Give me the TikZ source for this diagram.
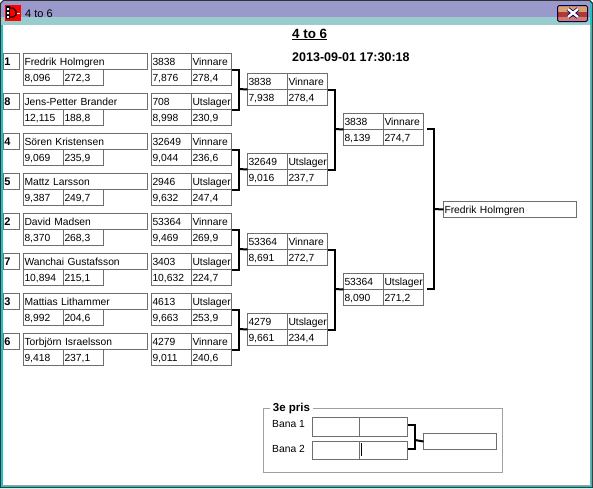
\documentclass[tikz,border=0pt]{standalone}
\usepackage{fontspec}
\setmainfont{Liberation Sans}
\usetikzlibrary{calc}
\hyphenpenalty=10000
\definecolor{barLilac}{HTML}{9999CC}
\definecolor{barTeal}{HTML}{99CCCC}
\definecolor{edgeCyan}{HTML}{19C4C4}
\definecolor{cellGray}{HTML}{6E6E6E}
\definecolor{frameGray}{HTML}{A0A0A0}
\definecolor{btnTan}{HTML}{D9A070}
\definecolor{btnRed}{HTML}{AE3A38}
\definecolor{btnPink}{HTML}{D27A72}

\begin{document}
\begin{tikzpicture}[
  x=1pt, y=-1pt,
  cell/.style={draw=cellGray, line width=1pt, anchor=north west, inner xsep=1pt, inner ysep=0pt,
    outer sep=0pt, xshift=.5pt, yshift=-.5pt,
    minimum height=16pt, text width=#1pt-2pt, text height=9pt, text depth=1pt, align=left,
    font=\fontsize{10.3}{12}\selectfont},
  seed/.style={cell=16, font=\fontsize{11}{12}\selectfont\bfseries},
  bracket/.style={line width=2pt, black, line cap=butt},
  caption/.style={inner sep=0pt, anchor=base west, font=\fontsize{10.3}{12}\selectfont}
]
  \useasboundingbox (0,0) rectangle (593,488);

  % window
  \fill[black!80] (0,488) -- (0,3) -- (3,0) -- (590,0) -- (593,3) -- (593,488) -- cycle;
  \fill[edgeCyan] (1,487) -- (1,4) -- (4,1) -- (589,1) -- (592,4) -- (592,487) -- cycle;
  \fill[barLilac] (1,17) -- (1,4) -- (4,1) -- (589,1) -- (590,4) -- (590,17) -- cycle;
  \fill[barTeal] (1,17) rectangle (590,25);
  \fill[frameGray] (3,25) rectangle (591,486);
  \fill[white] (3,25) rectangle (590,485);

  % title icon and close button
  \fill[red] (5,5) rectangle (21,21);
  \fill[black] (6,6) rectangle (10,19);
  \fill[white] (7,8) rectangle (9,10) (7,12) rectangle (9,14) (7,16) rectangle (9,18);
  \draw[black, line width=1.2pt] (10,8) -- (13,8) -- (16,11) -- (16,15) -- (13,17) -- (10,17);
  \draw[white, line width=1pt] (17,13) -- (20,13);
  \fill[btnTan] (557,5) rectangle (588,12);
  \fill[btnRed] (557,12) rectangle (588,17);
  \fill[btnPink] (557,17) rectangle (588,21);
  \draw[black!70!blue, line width=1pt, rounded corners=1.5pt] (557.5,5.5) rectangle (587.5,21.5);
  \draw[black!60!blue, line width=4pt] (568,9) -- (578,17) (578,9) -- (568,17);
  \draw[white, line width=2.4pt] (568,9) -- (578,17) (578,9) -- (568,17);
  \node[inner sep=0pt, anchor=base west, font=\fontsize{11}{12}\selectfont] (wintitle) at (25,17.5) {4 to 6};

  \node[inner sep=0pt, anchor=base west, font=\fontsize{13.4}{14}\selectfont\bfseries] (heading) at (292,38) {\underline{4 to 6}};
  \node[inner sep=0pt, anchor=base west, font=\fontsize{12.5}{14}\selectfont\bfseries] (stamp) at (292,61) {2013-09-01 17:30:18};

  % players
  \node[seed] (seed1) at (3,53) {1};
  \node[cell=124] (name1) at (23,53) {Fredrik Holmgren};
  \node[cell=40] (time1) at (23,69) {8,096};
  \node[cell=40] (pts1) at (63,69) {272,3};
  \node[cell=40] (id1) at (151,53) {3838};
  \node[cell=40] (res1) at (191,53) {Vinnare};
  \node[cell=40] (rt1) at (151,69) {7,876};
  \node[cell=40] (rp1) at (191,69) {278,4};

  \node[seed] (seed8) at (3,93) {8};
  \node[cell=124] (name8) at (23,93) {Jens-Petter Brander};
  \node[cell=40] (time8) at (23,109) {12,115};
  \node[cell=40] (pts8) at (63,109) {188,8};
  \node[cell=40] (id8) at (151,93) {708};
  \node[cell=40] (res8) at (191,93) {Utslager};
  \node[cell=40] (rt8) at (151,109) {8,998};
  \node[cell=40] (rp8) at (191,109) {230,9};

  \node[seed] (seed4) at (3,133) {4};
  \node[cell=124] (name4) at (23,133) {Sören Kristensen};
  \node[cell=40] (time4) at (23,149) {9,069};
  \node[cell=40] (pts4) at (63,149) {235,9};
  \node[cell=40] (id4) at (151,133) {32649};
  \node[cell=40] (res4) at (191,133) {Vinnare};
  \node[cell=40] (rt4) at (151,149) {9,044};
  \node[cell=40] (rp4) at (191,149) {236,6};

  \node[seed] (seed5) at (3,173) {5};
  \node[cell=124] (name5) at (23,173) {Mattz Larsson};
  \node[cell=40] (time5) at (23,189) {9,387};
  \node[cell=40] (pts5) at (63,189) {249,7};
  \node[cell=40] (id5) at (151,173) {2946};
  \node[cell=40] (res5) at (191,173) {Utslager};
  \node[cell=40] (rt5) at (151,189) {9,632};
  \node[cell=40] (rp5) at (191,189) {247,4};

  \node[seed] (seed2) at (3,213) {2};
  \node[cell=124] (name2) at (23,213) {David Madsen};
  \node[cell=40] (time2) at (23,229) {8,370};
  \node[cell=40] (pts2) at (63,229) {268,3};
  \node[cell=40] (id2) at (151,213) {53364};
  \node[cell=40] (res2) at (191,213) {Vinnare};
  \node[cell=40] (rt2) at (151,229) {9,469};
  \node[cell=40] (rp2) at (191,229) {269,9};

  \node[seed] (seed7) at (3,253) {7};
  \node[cell=124] (name7) at (23,253) {Wanchai Gustafsson};
  \node[cell=40] (time7) at (23,269) {10,894};
  \node[cell=40] (pts7) at (63,269) {215,1};
  \node[cell=40] (id7) at (151,253) {3403};
  \node[cell=40] (res7) at (191,253) {Utslager};
  \node[cell=40] (rt7) at (151,269) {10,632};
  \node[cell=40] (rp7) at (191,269) {224,7};

  \node[seed] (seed3) at (3,293) {3};
  \node[cell=124] (name3) at (23,293) {Mattias Lithammer};
  \node[cell=40] (time3) at (23,309) {8,992};
  \node[cell=40] (pts3) at (63,309) {204,6};
  \node[cell=40] (id3) at (151,293) {4613};
  \node[cell=40] (res3) at (191,293) {Utslager};
  \node[cell=40] (rt3) at (151,309) {9,663};
  \node[cell=40] (rp3) at (191,309) {253,9};

  \node[seed] (seed6) at (3,333) {6};
  \node[cell=124] (name6) at (23,333) {Torbjörn Israelsson};
  \node[cell=40] (time6) at (23,349) {9,418};
  \node[cell=40] (pts6) at (63,349) {237,1};
  \node[cell=40] (id6) at (151,333) {4279};
  \node[cell=40] (res6) at (191,333) {Vinnare};
  \node[cell=40] (rt6) at (151,349) {9,011};
  \node[cell=40] (rp6) at (191,349) {240,6};

  % semifinals
  \node[cell=40] (semiAid) at (247,73) {3838};
  \node[cell=40] (semiAres) at (287,73) {Vinnare};
  \node[cell=40] (semiAt) at (247,89) {7,938};
  \node[cell=40] (semiAp) at (287,89) {278,4};

  \node[cell=40] (semiBid) at (247,153) {32649};
  \node[cell=40] (semiBres) at (287,153) {Utslager};
  \node[cell=40] (semiBt) at (247,169) {9,016};
  \node[cell=40] (semiBp) at (287,169) {237,7};

  \node[cell=40] (semiCid) at (247,233) {53364};
  \node[cell=40] (semiCres) at (287,233) {Vinnare};
  \node[cell=40] (semiCt) at (247,249) {8,691};
  \node[cell=40] (semiCp) at (287,249) {272,7};

  \node[cell=40] (semiDid) at (247,313) {4279};
  \node[cell=40] (semiDres) at (287,313) {Utslager};
  \node[cell=40] (semiDt) at (247,329) {9,661};
  \node[cell=40] (semiDp) at (287,329) {234,4};

  % finals
  \node[cell=40] (finAid) at (343,113) {3838};
  \node[cell=40] (finAres) at (383,113) {Vinnare};
  \node[cell=40] (finAt) at (343,129) {8,139};
  \node[cell=40] (finAp) at (383,129) {274,7};

  \node[cell=40] (finBid) at (343,273) {53364};
  \node[cell=40] (finBres) at (383,273) {Utslager};
  \node[cell=40] (finBt) at (343,289) {8,090};
  \node[cell=40] (finBp) at (383,289) {271,2};

  \node[cell=133] (champ) at (443,201) {Fredrik Holmgren};

  % connectors
  \coordinate (joinA) at (238.5,89);
  \coordinate (joinB) at (238.5,169);
  \coordinate (joinC) at (238.5,249);
  \coordinate (joinD) at (238.5,329);
  \coordinate (joinE) at (334.5,129);
  \coordinate (joinF) at (334.5,289);
  \coordinate (joinG) at (434,209);
  \coordinate (stubA) at (427,129);
  \coordinate (stubB) at (427,289);

  \draw[bracket] (res1.south east) -| (joinA) |- (res8.south east);
  \draw[bracket] (joinA) -- (semiAid.south west);
  \draw[bracket] (res4.south east) -| (joinB) |- (res5.south east);
  \draw[bracket] (joinB) -- (semiBid.south west);
  \draw[bracket] (res2.south east) -| (joinC) |- (res7.south east);
  \draw[bracket] (joinC) -- (semiCid.south west);
  \draw[bracket] (res3.south east) -| (joinD) |- (res6.south east);
  \draw[bracket] (joinD) -- (semiDid.south west);
  \draw[bracket] (semiAres.south east) -| (joinE) |- (semiBres.south east);
  \draw[bracket] (joinE) -- (finAid.south west);
  \draw[bracket] (semiCres.south east) -| (joinF) |- (semiDres.south east);
  \draw[bracket] (joinF) -- (finBid.south west);
  \draw[bracket] (stubA) -| (joinG) |- (stubB);
  \draw[bracket] (joinG) -- (champ.west);

  % 3e pris
  \draw[frameGray, line width=1pt] (263.5,408.5) rectangle (502.5,472.5);
  \node[fill=white, inner xsep=3pt, inner ysep=1pt, font=\fontsize{11.5}{12}\selectfont\bfseries] (prize) at (291.5,408.5) {3e pris};
  \node[caption] (lane1) at (272,427.5) {Bana 1};
  \node[caption] (lane2) at (272,452) {Bana 2};
  \node[cell=47, minimum height=19pt] (lane1a) at (312,417) {};
  \node[cell=48, minimum height=19pt] (lane1b) at (359,417) {};
  \node[cell=47, minimum height=18pt] (lane2a) at (312,441) {};
  \node[cell=48, minimum height=18pt] (lane2b) at (359,441) {};
  \node[cell=73] (lane3) at (423,433) {};
  \coordinate (joinH) at (415,440);
  \draw[bracket] ($(lane1b.east)+(0,-2)$) -| (joinH) |- ($(lane2b.east)+(0,-2)$);
  \draw[bracket] (joinH) -- (lane3.west);
  \draw[black, line width=1pt] (361.5,443) -- (361.5,456);
\end{tikzpicture}
\end{document}
